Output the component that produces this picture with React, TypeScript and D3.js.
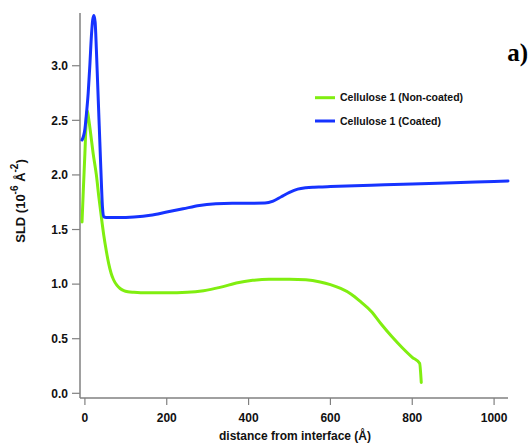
import React from "react";
import * as d3 from "d3";

// distance from interface (Å) and SLD (10^-6 Å^-2)
const nonCoatedX = [-7, -4, 0, 3, 5.6, 9, 14, 20, 28, 34, 40, 46, 52, 58, 64, 70, 78, 86, 95, 105, 120, 150, 200, 250, 290, 330, 370, 410, 450, 500, 540, 575, 600, 625, 650, 675, 700, 725, 750, 775, 800, 818, 822];
const nonCoatedY = [1.57, 1.85, 2.2, 2.48, 2.59, 2.52, 2.38, 2.2, 2.0, 1.8, 1.62, 1.45, 1.31, 1.19, 1.1, 1.04, 0.99, 0.96, 0.94, 0.93, 0.925, 0.92, 0.92, 0.925, 0.94, 0.97, 1.01, 1.035, 1.045, 1.045, 1.04, 1.02, 0.995, 0.96, 0.91, 0.835, 0.75, 0.63, 0.52, 0.42, 0.33, 0.275, 0.1];

const coatedX = [-7, 0, 4, 8, 12, 16, 19, 22, 25, 28, 31, 35, 39, 43, 46, 52, 80, 120, 160, 200, 240, 280, 320, 360, 400, 440, 460, 480, 500, 520, 540, 560, 580, 600, 700, 800, 900, 1000, 1034];
const coatedY = [2.32, 2.42, 2.57, 2.75, 3.0, 3.28, 3.42, 3.46, 3.4, 3.15, 2.85, 2.45, 2.05, 1.7, 1.615, 1.61, 1.61, 1.615, 1.63, 1.66, 1.69, 1.72, 1.735, 1.74, 1.74, 1.742, 1.76, 1.8, 1.84, 1.87, 1.883, 1.888, 1.89, 1.893, 1.905, 1.917, 1.928, 1.94, 1.944];

const xTicks = [0, 200, 400, 600, 800, 1000];
const yTicks = [0, 0.5, 1, 1.5, 2, 2.5, 3];

const seriesNames = ["Cellulose 1 (Non-coated)", "Cellulose 1 (Coated)"];
const seriesColors = ["#80ee10", "#1633ff"];

const axisColor = "#808080";
const font = "'Liberation Sans', Arial, sans-serif";

export default function App() {
  const x = d3.scaleLinear().domain([-12, 1034]).range([80, 508]);
  const y = d3.scaleLinear().domain([-0.043, 3.483]).range([398, 13]);

  const line = d3
    .line<[number, number]>()
    .x((d) => x(d[0]))
    .y((d) => y(d[1]))
    .curve(d3.curveMonotoneX);

  const series = [
    nonCoatedX.map((v, i) => [v, nonCoatedY[i]] as [number, number]),
    coatedX.map((v, i) => [v, coatedY[i]] as [number, number]),
  ];

  return (
    <svg width={530} height={444} style={{ position: "absolute", left: 0, top: 0, background: "#fff" }}>
      {/* y axis */}
      <line x1={80} x2={80} y1={13} y2={398} stroke={axisColor} strokeWidth={1.5} />
      {yTicks.map((t) => (
        <g key={"y" + t}>
          <line x1={72} x2={80} y1={y(t)} y2={y(t)} stroke={axisColor} strokeWidth={1.2} />
          <text x={68} y={y(t)} dy="0.35em" textAnchor="end" fontFamily={font} fontWeight="bold" fontSize={12} fill="#111">
            {d3.format(".1f")(t)}
          </text>
        </g>
      ))}
      {/* x axis */}
      <line x1={80} x2={508} y1={398} y2={398} stroke={axisColor} strokeWidth={1.5} />
      {xTicks.map((t) => (
        <g key={"x" + t}>
          <line x1={x(t)} x2={x(t)} y1={398} y2={405} stroke={axisColor} strokeWidth={1.2} />
          <text x={x(t)} y={422} textAnchor="middle" fontFamily={font} fontWeight="bold" fontSize={12} fill="#111">
            {t}
          </text>
        </g>
      ))}
      <text x={295} y={440} textAnchor="middle" fontFamily={font} fontWeight="bold" fontSize={12} fill="#111">
        distance from interface (Å)
      </text>
      <text transform="translate(25,201) rotate(-90)" textAnchor="middle" fontFamily={font} fontWeight="bold" fontSize={13} fill="#111">
        SLD (10
        <tspan dy={-7} fontSize={10}>-6</tspan>
        <tspan dy={7}> Å</tspan>
        <tspan dy={-7} fontSize={10}>-2</tspan>
        <tspan dy={7}>)</tspan>
      </text>

      {series.map((s, i) => (
        <path key={i} d={line(s) || ""} fill="none" stroke={seriesColors[i]} strokeWidth={3} strokeLinejoin="round" strokeLinecap="round" />
      ))}

      {/* legend */}
      {seriesNames.map((n, i) => (
        <g key={n} transform={`translate(315,${97.7 + i * 23.3})`}>
          <line x1={0} x2={20} y1={0} y2={0} stroke={seriesColors[i]} strokeWidth={3} />
          <text x={25} y={3.5} fontFamily={font} fontWeight="bold" fontSize={10.5} fill="#111">
            {n}
          </text>
        </g>
      ))}

      <text x={528} y={61} textAnchor="end" fontFamily="'Liberation Serif', 'Times New Roman', serif" fontWeight="bold" fontSize={25} fill="#000">
        a)
      </text>
    </svg>
  );
}
